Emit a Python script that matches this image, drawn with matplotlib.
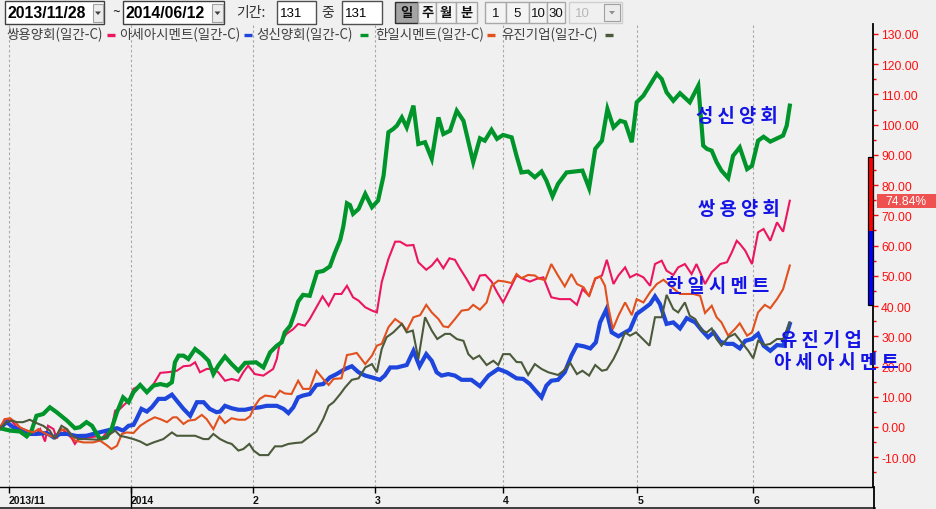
import numpy as np
import matplotlib
matplotlib.use("Agg")
import matplotlib.pyplot as plt
import matplotlib.transforms as mtrans
from matplotlib.patches import Rectangle

plt.rcParams['font.family'] = ['Noto Sans CJK KR', 'DejaVu Sans']
plt.rcParams['axes.unicode_minus'] = False

# ---------------- data (trading-day index, % change) ----------------
start_date = '2013/11/28'
end_date = '2014/06/12'
period_days = 131

series_names = ['쌍용양회', '아세아시멘트', '성신양회', '한일시멘트', '유진기업']
series_colors = ['#ec1660', '#1e46dc', '#00952a', '#e2501e', '#4a5a3a']
series_widths = [1.5, 3.0, 3.0, 1.5, 1.5]

ssangyong = [(0.5,-0.4),(1.3,2.6),(2.4,2.1),(3.3,-0.1),(4.3,-0.7),(5.4,-1.5),(6.5,-2.3),(7.1,-0.7),(7.9,-4.8),(8.4,0.4),(9.3,-0.7),(9.8,-3.8),(10.6,-0.7),(11.5,-2.0),(12.3,-3.8),(12.8,-5.6),(13.6,-3.4),(15.3,-3.4),(16.4,-3.1),(17.2,-3.8),(18.0,-1.8),(18.8,-0.7),(19.4,5.4),(20.2,6.0),(20.7,7.0),(21.6,8.7),(22.4,12.6),(23.5,13.7),(24.6,11.5),(25.7,14.2),(26.8,17.9),(28.4,18.2),(29.5,18.6),(30.6,20.1),(31.7,20.3),(32.5,21.4),(33.3,18.1),(34.4,19.2),(35.5,19.2),(36.3,18.1),(37.4,15.3),(38.5,15.9),(39.6,15.3),(40.4,18.1),(41.2,20.3),(42.3,17.5),(43.7,17.0),(45.3,19.2),(45.9,22.5),(46.4,28.0),(47.5,30.8),(48.6,32.4),(49.4,34.1),(50.5,33.5),(51.3,35.7),(52.4,39.6),(53.4,43.2),(54.4,40.1),(55.4,44.0),(56.5,44.0),(57.4,46.7),(58.4,42.9),(59.3,41.8),(60.4,39.6),(61.5,38.5),(62.3,37.9),(63.1,47.9),(64.2,55.6),(65.3,61.3),(66.1,61.3),(67.2,60.0),(68.3,60.2),(69.1,54.5),(70.4,52.0),(71.3,53.4),(72.2,55.6),(73.2,52.5),(74.2,55.8),(75.1,55.3),(75.9,52.5),(77.0,49.0),(78.1,45.1),(79.2,50.1),(80.1,50.3),(81.1,48.1),(82.0,44.6),(83.0,41.2),(84.1,45.6),(85.2,50.1),(86.3,49.0),(87.4,48.1),(88.5,49.0),(89.6,49.5),(90.9,42.9),(92.3,42.3),(94.0,42.3),(95.1,40.4),(96.0,45.6),(97.1,43.4),(98.1,49.0),(99.2,50.1),(100.0,55.3),(101.1,47.3),(101.9,50.1),(103.0,52.8),(103.8,49.5),(104.9,50.6),(106.0,49.5),(107.1,46.7),(107.9,53.9),(109.0,55.0),(109.8,51.7),(110.9,50.3),(111.7,52.8),(112.8,53.9),(113.9,50.6),(114.7,53.9),(115.3,51.2),(116.1,47.3),(117.2,51.2),(118.6,53.9),(119.7,54.5),(120.5,57.8),(121.3,61.6),(121.8,60.6),(122.7,58.3),(123.8,53.9),(124.8,64.4),(125.7,65.5),(126.8,61.6),(127.9,67.7),(128.9,64.6),(130.0,74.84)]

asia_cement = [(0.5,-0.4),(1.6,1.6),(2.7,-0.1),(3.8,-1.2),(5.4,-2.3),(6.5,-2.3),(8.2,-2.0),(9.3,-3.4),(10.4,-2.3),(11.5,-2.3),(13.1,-3.0),(14.7,-2.9),(16.4,-2.0),(18.0,-1.2),(19.7,-0.4),(20.7,-1.2),(21.6,0.4),(22.4,0.7),(22.9,2.6),(23.7,6.0),(24.6,5.1),(25.4,6.5),(26.5,9.3),(27.6,9.3),(28.7,10.7),(29.5,8.7),(30.6,6.0),(31.7,3.7),(32.8,8.2),(33.9,8.2),(34.9,6.0),(36.0,4.9),(36.6,5.1),(37.4,7.0),(38.5,6.2),(39.6,5.7),(40.7,5.7),(41.8,6.2),(43.1,6.5),(44.2,7.0),(45.9,7.0),(47.0,6.0),(47.8,4.6),(48.6,6.5),(49.4,9.8),(50.2,10.4),(51.3,10.9),(52.4,13.9),(53.5,14.2),(54.6,16.4),(55.7,17.5),(57.1,19.2),(58.2,20.1),(59.3,18.1),(60.4,17.0),(61.5,16.4),(62.8,15.6),(63.6,17.0),(64.5,19.7),(65.6,19.7),(67.2,20.5),(68.3,25.2),(69.3,20.1),(70.4,24.1),(71.3,21.9),(72.1,18.1),(72.9,17.0),(74.0,17.5),(75.1,17.0),(76.2,15.6),(77.8,15.6),(79.2,13.5),(80.6,17.0),(82.2,19.2),(83.6,18.1),(85.2,16.1),(86.3,15.9),(87.4,14.2),(88.2,12.3),(89.3,9.8),(90.1,13.7),(90.9,15.3),(92.0,15.6),(93.1,18.1),(94.2,23.6),(95.1,27.1),(96.2,26.7),(97.3,26.0),(98.2,28.0),(98.9,34.6),(99.9,38.8),(100.8,31.3),(101.9,30.0),(103.0,31.3),(103.8,32.2),(104.9,37.4),(106.0,39.0),(107.1,40.7),(107.9,43.2),(108.7,40.7),(109.8,34.1),(110.9,34.6),(112.0,32.6),(113.1,36.0),(114.5,34.6),(115.6,31.9),(116.6,29.7),(117.5,31.3),(118.6,28.2),(119.7,27.5),(120.7,27.5),(121.8,26.0),(122.7,28.5),(123.8,29.1),(124.8,30.8),(125.7,26.9),(126.8,25.2),(127.9,27.1),(128.9,26.9),(130.0,34.1)]

sungshin = [(0.5,-0.4),(2.2,-1.2),(3.8,-1.5),(4.9,-3.1),(5.7,-1.2),(6.5,3.7),(7.6,4.3),(8.7,6.5),(9.8,4.9),(11.5,2.1),(12.8,-0.4),(13.6,-0.1),(14.7,1.6),(15.6,0.4),(16.4,-2.3),(16.9,-4.0),(18.0,-3.4),(18.8,-0.7),(19.7,4.9),(20.7,9.8),(21.6,8.2),(22.4,11.5),(23.5,13.9),(24.6,11.5),(25.7,13.7),(26.8,14.2),(27.9,13.7),(28.7,14.8),(29.2,21.4),(29.8,23.6),(30.6,23.6),(31.4,22.5),(32.5,25.8),(33.6,24.1),(34.7,21.9),(35.5,17.5),(36.3,20.3),(37.4,23.3),(38.5,20.8),(39.6,18.6),(40.7,21.2),(42.5,21.4),(43.7,19.7),(44.8,24.7),(45.9,26.9),(46.7,28.0),(47.2,31.3),(48.1,33.5),(48.9,38.1),(49.4,41.5),(50.2,43.7),(51.3,43.4),(52.5,51.2),(53.5,51.6),(54.6,53.1),(55.4,57.5),(56.3,61.9),(56.8,66.3),(57.4,74.0),(57.9,73.4),(58.4,70.5),(59.3,72.1),(60.4,77.1),(61.5,72.7),(62.5,74.9),(63.4,83.1),(64.2,97.5),(65.0,98.6),(65.6,99.7),(66.4,102.4),(67.2,99.1),(68.3,106.3),(69.1,93.6),(70.2,94.2),(71.3,88.7),(72.4,102.4),(73.2,96.9),(74.3,98.0),(75.4,104.6),(76.5,101.3),(78.1,87.6),(79.2,95.5),(80.0,94.7),(81.1,98.3),(82.0,95.3),(83.0,96.6),(84.4,95.8),(85.2,89.7),(86.0,84.2),(87.1,84.5),(88.2,82.6),(89.3,84.5),(90.1,81.5),(91.1,76.3),(92.0,80.4),(93.4,84.2),(96.0,84.8),(97.1,79.0),(98.1,92.0),(99.2,94.7),(100.1,105.2),(101.1,99.1),(102.2,101.3),(103.0,100.8),(104.1,94.2),(104.9,107.4),(106.0,109.6),(108.2,116.8),(109.0,115.1),(109.8,110.7),(110.9,107.9),(112.0,110.4),(113.6,107.4),(115.0,112.9),(115.8,93.1),(116.4,92.0),(117.2,91.4),(118.0,87.6),(118.8,84.8),(119.9,82.3),(120.7,89.7),(121.8,92.5),(123.0,85.3),(123.8,86.4),(124.8,94.7),(125.7,96.0),(126.8,94.4),(128.9,96.4),(129.5,99.7),(130.0,106.3)]

hanil = [(0.5,-0.4),(1.3,2.6),(2.2,2.9),(3.0,1.6),(3.8,-0.1),(4.9,-1.2),(6.0,-1.8),(6.8,-0.7),(7.6,-1.8),(8.7,-2.9),(9.5,-3.4),(10.4,-1.2),(11.2,-0.7),(12.0,-2.0),(12.8,-4.5),(14.2,-5.1),(15.8,-5.1),(16.9,-4.5),(18.0,-6.0),(18.8,-7.3),(19.7,-6.2),(20.5,-2.3),(21.3,-1.8),(22.4,-2.0),(23.5,0.4),(24.8,2.1),(25.9,3.2),(26.8,2.6),(27.9,1.6),(28.9,3.2),(29.5,3.2),(30.6,1.0),(31.4,2.1),(32.5,2.4),(33.6,4.0),(34.4,2.6),(35.5,-0.7),(36.5,3.5),(37.4,1.3),(38.5,2.9),(39.6,2.4),(40.7,2.4),(41.5,3.5),(42.3,7.0),(43.1,9.3),(44.0,10.4),(45.1,10.1),(45.6,9.8),(46.4,12.0),(47.2,11.1),(48.3,10.9),(49.4,15.3),(50.2,12.6),(51.3,12.6),(52.4,18.6),(53.5,15.9),(54.4,13.9),(55.2,15.9),(56.5,16.1),(57.4,23.8),(58.2,24.1),(59.0,24.5),(60.4,20.8),(61.5,23.6),(62.3,26.9),(63.1,27.5),(64.2,33.0),(65.3,35.7),(66.4,34.1),(67.2,31.9),(68.3,36.3),(69.4,37.0),(70.4,40.4),(71.3,37.9),(72.4,35.7),(73.2,33.3),(74.0,33.0),(75.1,35.7),(76.2,38.5),(77.3,38.8),(78.1,40.4),(79.2,38.8),(80.3,41.2),(81.1,46.7),(82.2,48.4),(83.3,48.1),(84.4,47.6),(85.2,50.6),(86.0,49.2),(87.1,50.3),(88.2,50.1),(89.0,49.0),(89.9,48.6),(90.9,53.9),(92.0,50.1),(93.1,46.5),(94.2,50.6),(95.1,47.3),(96.2,46.2),(97.1,43.2),(98.1,49.2),(98.9,49.8),(99.7,46.7),(100.2,40.1),(101.0,32.4),(101.9,36.8),(103.0,41.2),(104.1,37.0),(104.9,42.3),(106.0,41.2),(107.1,44.6),(108.2,47.3),(109.3,48.7),(110.4,46.7),(112.0,44.0),(114.2,44.0),(115.3,43.4),(116.1,37.7),(117.2,40.1),(118.0,36.3),(118.8,34.6),(119.9,30.2),(121.0,32.4),(121.8,34.3),(123.0,30.2),(123.8,31.3),(124.8,37.9),(125.9,40.4),(126.8,39.3),(127.9,42.3),(128.9,45.6),(130.0,53.4)]

eugene = [(0.5,-0.4),(1.6,1.6),(2.4,2.1),(3.3,1.6),(4.3,1.6),(5.4,2.4),(6.5,1.3),(7.6,0.4),(8.7,-1.2),(9.5,-4.0),(10.6,0.4),(11.5,-0.7),(12.3,-2.9),(13.4,-4.0),(14.7,-4.0),(16.4,-4.2),(17.5,-3.8),(18.6,-2.3),(19.4,-1.2),(20.2,-2.9),(21.3,-3.4),(22.4,-4.0),(23.5,-4.8),(24.6,-6.0),(25.7,-5.1),(27.3,-4.0),(28.7,-1.8),(29.5,-2.9),(32.5,-2.9),(33.9,-4.0),(34.7,-4.0),(35.5,-2.3),(36.6,-4.0),(37.7,-5.1),(38.5,-5.6),(39.6,-7.8),(40.4,-7.3),(41.4,-5.6),(42.1,-7.8),(43.1,-9.3),(44.5,-9.3),(45.6,-6.4),(46.7,-6.4),(47.8,-5.6),(48.9,-5.3),(50.0,-5.1),(51.1,-3.4),(52.4,-1.5),(53.5,2.6),(54.4,7.0),(55.2,8.2),(56.3,10.9),(57.1,13.1),(58.2,15.6),(59.3,16.1),(60.4,19.7),(61.5,20.8),(62.3,18.1),(63.1,25.8),(63.9,29.7),(65.0,31.3),(66.4,34.1),(67.2,31.3),(68.2,31.9),(69.1,22.5),(70.2,36.3),(71.3,31.9),(72.2,29.1),(73.5,30.8),(74.3,30.8),(75.4,29.1),(76.5,28.5),(77.3,24.1),(78.1,22.5),(79.1,23.6),(80.3,20.5),(81.4,21.9),(82.2,20.5),(83.0,24.1),(84.1,24.1),(85.2,21.5),(86.0,21.4),(87.1,17.2),(88.2,20.8),(89.3,19.2),(90.4,18.1),(92.0,17.2),(92.9,18.6),(94.0,21.2),(95.1,17.5),(96.0,18.6),(97.1,17.0),(98.1,20.5),(99.2,18.6),(100.0,19.0),(101.1,22.5),(101.9,25.8),(103.0,31.3),(103.8,30.2),(104.8,31.3),(105.9,29.1),(107.0,26.9),(107.9,36.3),(109.0,36.3),(109.8,43.7),(110.9,39.0),(111.7,37.9),(112.8,41.2),(113.6,36.8),(114.5,35.7),(115.6,31.9),(116.4,31.3),(117.2,32.6),(118.0,29.1),(118.8,26.9),(119.9,29.7),(121.0,30.8),(122.1,28.0),(123.2,25.2),(124.0,22.7),(124.8,28.5),(125.9,27.1),(126.8,27.5),(127.9,29.1),(128.9,29.1),(130.0,34.6)]

series_data = [ssangyong, asia_cement, sungshin, hanil, eugene]

month_tick_days = [2, 22, 42, 62, 83, 105, 124]
month_tick_labels = ['2013/11', '2014', '2', '3', '4', '5', '6']
y_ticks = list(range(-10, 131, 10))
last_value = 74.84
band_red = (64.9, 89.2)
band_blue = (40.5, 64.9)

# annotation anchors (day index, value)
label_anchor = {'성신양회': (121.3, 103.0), '쌍용양회': (121.7, 72.4),
                '한일시멘트': (118.2, 46.8), '유진기업': (135.1, 29.1),
                '아세아시멘트': (137.6, 21.8)}

# ---------------- figure ----------------
W, H = 936, 510
BG = '#f0f0f0'
fig = plt.figure(figsize=(W / 100, H / 100), dpi=100)
fig.patch.set_facecolor(BG)

ax = fig.add_axes([0, 22 / H, 873 / W, (488 - 25) / H])
ax.set_facecolor(BG)
ax.set_xlim(0.52, 143.64)
ax.set_ylim(-19.85, 133.3)

for name, pts, col, lw in zip(series_names, series_data, series_colors, series_widths):
    arr = np.array(pts)
    ax.plot(arr[:, 0], arr[:, 1], color=col, lw=lw, solid_joinstyle='miter', zorder=3)

for s in ['left', 'top']:
    ax.spines[s].set_visible(False)
ax.spines['right'].set_color('black')
ax.spines['right'].set_linewidth(1.3)
ax.spines['bottom'].set_color('black')
ax.spines['bottom'].set_linewidth(1.0)

ax.yaxis.tick_right()
ax.set_yticks(y_ticks)
ax.set_yticks([v + 5 for v in range(-20, 130, 10)], minor=True)
ax.set_yticklabels([f'{v:.2f}' for v in y_ticks], family=['Liberation Sans', 'DejaVu Sans'])
ax.tick_params(axis='y', which='major', direction='out', length=3.8, width=1.0,
               color='#ff0000', labelcolor='#ff1010', labelsize=8.7, pad=2)
ax.tick_params(axis='y', which='minor', direction='out', length=2.2, width=1.0,
               color='#ff0000')

ax.set_xticks(month_tick_days)
ax.set_xticklabels(month_tick_labels, family=['Liberation Sans', 'DejaVu Sans'],
                   fontweight='bold', ha='left')
ax.tick_params(axis='x', direction='out', length=4, width=1.0, color='black',
               labelsize=7.6, pad=1.5, labelcolor='#111111')
ax.xaxis.grid(True, color='#a8a8a8', linestyle=(0, (2.2, 2.2)), linewidth=0.8)
ax.set_axisbelow(True)

# year separator + bottom lines
bt = mtrans.blended_transform_factory(ax.transData, fig.transFigure)
ax.plot([22, 22], [0, 22 / H], transform=bt, color='black', lw=1.0, clip_on=False)
ft = fig.transFigure
fig.add_artist(plt.Line2D([0, 875 / W], [1.2 / H, 1.2 / H], transform=ft, color='#202020', lw=1.2))
fig.add_artist(plt.Line2D([873.6 / W, 873.6 / W], [0, 22 / H], transform=ft, color='black', lw=1.3))

# right-side band and last value label
yt = ax.get_yaxis_transform()
wb = 4.6 / 873
ax.add_patch(Rectangle((1 - wb, band_blue[0]), wb, band_blue[1] - band_blue[0], transform=yt,
                       fc='#0000ff', ec='none', clip_on=False, zorder=5))
ax.add_patch(Rectangle((1 - wb, band_red[0]), wb, band_red[1] - band_red[0], transform=yt,
                       fc='#ff0000', ec='none', clip_on=False, zorder=5))
ax.add_patch(Rectangle((1 - wb, band_blue[0]), wb, band_red[1] - band_blue[0], transform=yt,
                       fc='none', ec='black', lw=0.9, clip_on=False, zorder=6))
lt = mtrans.blended_transform_factory(fig.transFigure, ax.transData)
ax.add_patch(Rectangle((877 / W, last_value - 2.35), (W - 877) / W, 4.7, transform=lt,
                       fc='#ef5050', ec='none', clip_on=False, zorder=6))
ax.text(906 / W, last_value, f'{last_value:.2f}%', transform=lt, ha='center', va='center',
        color='white', fontsize=8.7, family=['Liberation Sans', 'DejaVu Sans'], zorder=7)

# annotations
for name in series_names:
    x, y = label_anchor[name]
    ax.text(x, y, ' '.join(name), color='#1414e6', fontsize=13.5, fontweight='bold',
            ha='center', va='center', family=['Noto Sans CJK KR'], zorder=8, clip_on=False)

# ---------------- overlay (toolbar + legend), pixel coords ----------------
ov = fig.add_axes([0, 0, 1, 1])
ov.set_xlim(0, W)
ov.set_ylim(H, 0)
ov.axis('off')
ov.patch.set_alpha(0)

NUMF = ['Liberation Sans', 'DejaVu Sans']


def box(x0, y0, x1, y1, fc='white', ec='#404040', lw=1.0):
    ov.add_patch(Rectangle((x0, y0), x1 - x0, y1 - y0, fc=fc, ec=ec, lw=lw))


def dropdown(x0, y0, x1, y1, col='#404040'):
    box(x0, y0, x1, y1, fc='#ececec', ec='#a0a0a0', lw=0.8)
    cx, cy = (x0 + x1) / 2, (y0 + y1) / 2
    ov.fill([cx - 3, cx + 3, cx], [cy - 1.5, cy - 1.5, cy + 2], color=col, lw=0)


box(5, 2, 104, 25)
ov.text(8, 14, start_date, fontsize=11.3, fontweight='bold', family=NUMF, va='center', ha='left')
dropdown(93, 5, 103, 23)
ov.text(116, 13, '~', fontsize=10, va='center', ha='center', color='#202020')
box(123, 2, 224, 25)
ov.text(126, 14, end_date, fontsize=11.3, fontweight='bold', family=NUMF, va='center', ha='left')
dropdown(212, 5, 223, 23)
ov.text(236, 13.5, '기간:', fontsize=10, va='center', ha='left', color='#303030')
box(277, 2, 316, 25, ec='#505050')
ov.text(280, 14, str(period_days), fontsize=9.5, family=NUMF, va='center', ha='left')
ov.text(321, 13.5, '중', fontsize=10, va='center', ha='left', color='#303030')
box(342, 2, 382, 25, ec='#505050')
ov.text(345, 14, str(period_days), fontsize=9.5, family=NUMF, va='center', ha='left')

btns = [('일', 395, 418), ('주', 418, 436), ('월', 436, 456), ('분', 456, 477)]
for i, (t, x0, x1) in enumerate(btns):
    if i == 0:
        box(x0, 3, x1, 24, fc='#a4a4a4', ec='#303030')
    else:
        box(x0, 3, x1, 24, fc='#f4f4f4', ec='#a8a8a8')
    ov.text((x0 + x1) / 2, 13.5, t, fontsize=9.5, fontweight='bold', ha='center', va='center',
            color='#101010')
nbtns = [('1', 485, 506), ('5', 506, 529), ('10', 529, 547), ('30', 547, 565)]
for t, x0, x1 in nbtns:
    box(x0, 3, x1, 24, fc='#f4f4f4', ec='#a8a8a8')
    ov.text((x0 + x1) / 2, 14, t, fontsize=9.5, family=NUMF, ha='center', va='center',
            color='#101010')
box(569, 3, 622, 24, fc='#f0f0f0', ec='#d0d0d0')
ov.text(575, 14, '10', fontsize=9.5, family=NUMF, ha='left', va='center', color='#b8b8b8')
dropdown(604, 5, 620, 22, col='#909090')

# legend row
leg_text_x = [6, 119, 256, 375, 501]
leg_mark_x = [107, 244, 360, 487, 605]
for name, col, tx, mx in zip(series_names, series_colors, leg_text_x, leg_mark_x):
    ov.text(tx, 35, f'{name}(일간-C)', fontsize=9.7, color='#404040', ha='left', va='center')
    ov.plot([mx, mx + 8], [36, 36], color=col, lw=2.4, solid_capstyle='butt')

fig.savefig('out.png', dpi=100, facecolor=BG)
